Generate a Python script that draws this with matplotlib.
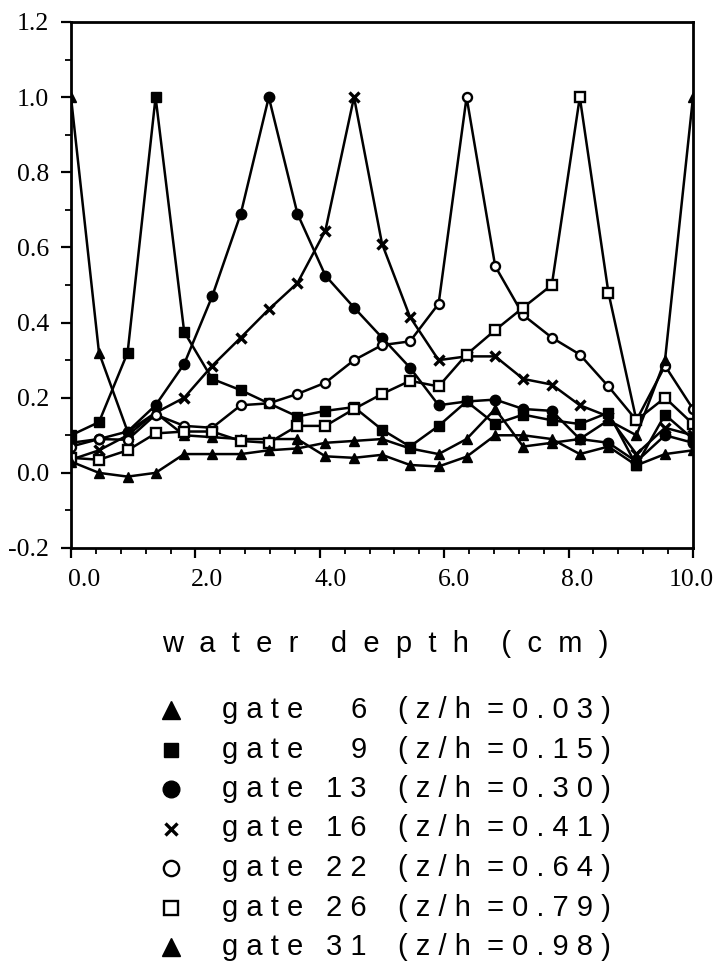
import numpy as np
import matplotlib
matplotlib.use("Agg")
import matplotlib.pyplot as plt
import matplotlib.transforms as mtrans
from matplotlib.ticker import MultipleLocator

# water depth of the gates (cm)
depth = [0.0, 0.45, 0.91, 1.36, 1.82, 2.27, 2.73, 3.18, 3.64, 4.09, 4.55, 5.0,
         5.45, 5.91, 6.36, 6.82, 7.27, 7.73, 8.18, 8.64, 9.09, 9.55, 10.0]

gate6 = [1.00, 0.32, 0.11, 0.16, 0.10, 0.095, 0.09, 0.09, 0.09, 0.044, 0.04, 0.048,
         0.021, 0.017, 0.043, 0.10, 0.10, 0.09, 0.05, 0.07, 0.02, 0.05, 0.06]
gate9 = [0.10, 0.135, 0.32, 1.00, 0.375, 0.25, 0.22, 0.185, 0.15, 0.165, 0.175, 0.115,
         0.07, 0.125, 0.19, 0.13, 0.155, 0.14, 0.13, 0.16, 0.02, 0.155, 0.09]
gate13 = [0.08, 0.09, 0.11, 0.18, 0.29, 0.47, 0.69, 1.00, 0.69, 0.525, 0.44, 0.36,
          0.28, 0.18, 0.19, 0.195, 0.17, 0.165, 0.09, 0.08, 0.03, 0.10, 0.08]
gate16 = [0.035, 0.06, 0.10, 0.16, 0.20, 0.285, 0.36, 0.435, 0.505, 0.645, 1.00, 0.61,
          0.415, 0.30, 0.31, 0.31, 0.25, 0.235, 0.18, 0.15, 0.05, 0.12, 0.10]
gate22 = [0.07, 0.09, 0.088, 0.155, 0.125, 0.12, 0.18, 0.185, 0.21, 0.24, 0.30, 0.34,
          0.35, 0.45, 1.00, 0.55, 0.42, 0.36, 0.315, 0.23, 0.14, 0.285, 0.17]
gate26 = [0.04, 0.035, 0.06, 0.105, 0.11, 0.11, 0.085, 0.08, 0.125, 0.125, 0.17, 0.21,
          0.245, 0.23, 0.315, 0.38, 0.44, 0.50, 1.00, 0.48, 0.14, 0.20, 0.13]
gate31 = [0.03, 0.0, -0.01, 0.0, 0.05, 0.05, 0.05, 0.06, 0.065, 0.08, 0.085, 0.09,
          0.065, 0.05, 0.09, 0.17, 0.07, 0.08, 0.09, 0.14, 0.10, 0.30, 1.00]

labels_num = ["6", "9", "1 3", "1 6", "2 2", "2 6", "3 1"]
labels_zh = ["0 . 0 3", "0 . 1 5", "0 . 3 0", "0 . 4 1", "0 . 6 4", "0 . 7 9", "0 . 9 8"]

series = [gate6, gate9, gate13, gate16, gate22, gate26, gate31]
styles = [
    dict(marker="^", ms=7.5, mfc="black", mec="black"),
    dict(marker="s", ms=6.5, mfc="black", mec="black"),
    dict(marker="o", ms=7.5, mfc="black", mec="black"),
    dict(marker="x", ms=7, mew=2.4, mec="black"),
    dict(marker="o", ms=6.5, mfc="white", mec="black", mew=1.7),
    dict(marker="s", ms=6.5, mfc="white", mec="black", mew=1.7),
    dict(marker="^", ms=7.5, mfc="black", mec="black"),
]
leg_ms = [13, 10, 12, 9, 11, 10, 13]

W, H = 717, 965
fig = plt.figure(figsize=(W / 100, H / 100), dpi=100)
ax = fig.add_axes([71 / W, 1 - 548 / H, 622 / W, 526 / H])

for vals, st in zip(series, styles):
    ax.plot(depth, vals, color="black", lw=1.8, **st)

ax.set_xlim(0, 10)
ax.set_ylim(-0.2, 1.2)
ax.set_xticks(np.arange(0, 10.01, 2))
ax.set_xticklabels(["%.1f" % v for v in np.arange(0, 10.01, 2)])
ax.xaxis.set_minor_locator(MultipleLocator(0.4))
yt = np.arange(-0.2, 1.21, 0.2)
ax.set_yticks(yt)
ax.set_yticklabels(["%.1f" % (0 if abs(v) < 1e-9 else v) for v in yt])
ax.yaxis.set_minor_locator(MultipleLocator(0.1))
ax.tick_params(which="major", direction="out", length=7, width=1.6)
ax.tick_params(which="minor", direction="out", length=4, width=1.3)
ax.tick_params(axis="y", pad=9)
ax.tick_params(axis="x", pad=8)
for lab in ax.get_xticklabels() + ax.get_yticklabels():
    lab.set_fontfamily("Liberation Serif")
    lab.set_fontsize(18.5)
# the printed x labels sit a little right of their ticks
shifts = [13, 12, 11, 10, 9, -2]
for lab, dx in zip(ax.get_xticklabels(), shifts):
    lab.set_transform(lab.get_transform() + mtrans.ScaledTranslation(dx / 100, 0, fig.dpi_scale_trans))
for sp in ax.spines.values():
    sp.set_linewidth(2)

sans = "Liberation Sans"
fig.text(385 / W, 1 - 652 / H, "w  a  t  e  r    d  e  p  t  h    (  c  m  )", ha="center",
         va="baseline", fontsize=21, family=sans)

# legend block
leg = fig.add_axes([0, 0, 1, 1], facecolor="none")
leg.set_xlim(0, W)
leg.set_ylim(H, 0)
leg.axis("off")
for k, st in enumerate(styles):
    base = 718 + 39.5 * k
    leg.plot([171], [base - 8], color="black", **{**st, "ms": leg_ms[k]})
    leg.text(222, base, "g a t e", fontsize=21, family=sans, va="baseline")
    leg.text(367, base, labels_num[k], fontsize=21, family=sans, va="baseline", ha="right")
    leg.text(398, base, "( z / h  = " + labels_zh[k] + " )", fontsize=21, family=sans,
             va="baseline")

fig.savefig("out.png", dpi=100)
